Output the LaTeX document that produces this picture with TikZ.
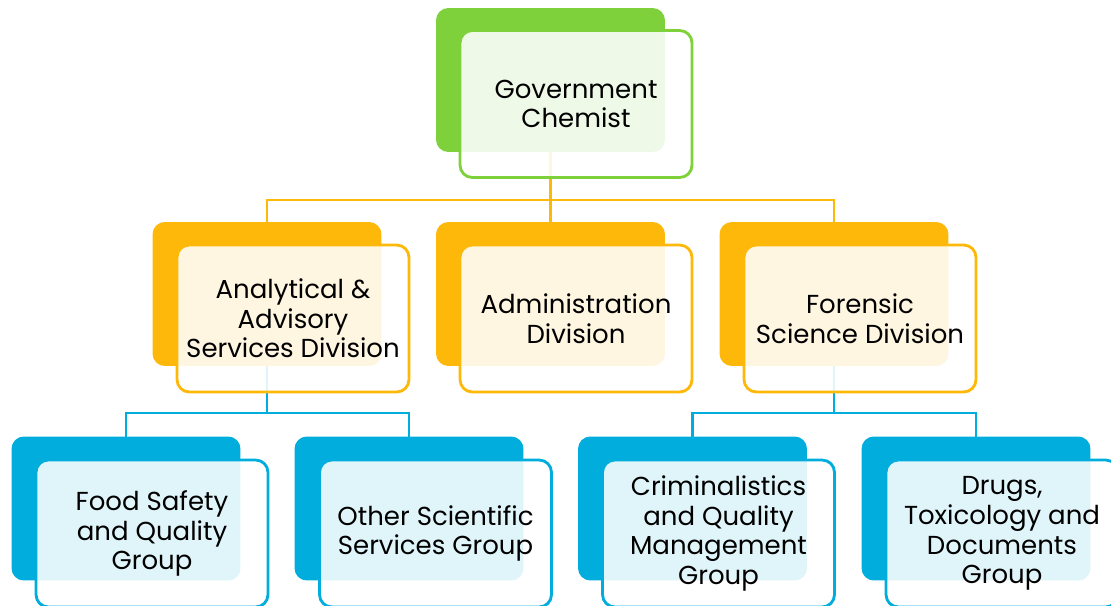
\documentclass[tikz,border=0pt]{standalone}
\usepackage{fontspec}
\setmainfont{Poppins}
\usetikzlibrary{backgrounds}
\definecolor{chemgreen}{HTML}{7FD13B}
\definecolor{chemorange}{HTML}{FEB80A}
\definecolor{chemblue}{HTML}{00ADDC}
\tikzset{
	backbox/.style={fill=#1, rounded corners=7pt, minimum width=4.58cm, minimum height=2.88cm, inner sep=0pt},
	frontbox/.style={draw=#1, line width=1.6pt, fill=white, fill opacity=0.88, text opacity=1, rounded corners=7pt,
			minimum width=4.64cm, minimum height=2.94cm, inner sep=0pt, align=center,
			font=\fontsize{14.8}{16.9}\selectfont},
	link/.style={draw=#1, line width=1.6pt}
}

\begin{document}
\begin{tikzpicture}[x=0.02cm, y=-0.02cm]
	\clip (0,0) rectangle (1111,605);
	\useasboundingbox (0,0) rectangle (1111,605);
	% top
	\node[backbox=chemgreen] (gcb) at (550.5,80) {};
	\node[frontbox=chemgreen] (gc) at (576,104) {Government\\Chemist};
	% divisions
	\node[backbox=chemorange] (aasb) at (267,294) {};
	\node[frontbox=chemorange] (aas) at (293,318.5) {Analytical \&\\Advisory\\Services Division};
	\node[backbox=chemorange] (admb) at (550.5,294) {};
	\node[frontbox=chemorange] (adm) at (576,318.5) {Administration\\Division};
	\node[backbox=chemorange] (fsdb) at (834,294) {};
	\node[frontbox=chemorange] (fsd) at (860,318.5) {Forensic\\Science Division};
	% groups
	\node[backbox=chemblue] (fsqb) at (126,508.5) {};
	\node[frontbox=chemblue] (fsq) at (152,533.5) {Food Safety\\and Quality\\Group};
	\node[backbox=chemblue] (ossb) at (409,508.5) {};
	\node[frontbox=chemblue] (oss) at (435.5,533.5) {Other Scientific\\Services Group};
	\node[backbox=chemblue] (cqmb) at (692.5,508.5) {};
	\node[frontbox=chemblue] (cqm) at (718.5,533.5) {Criminalistics\\and Quality\\Management\\Group};
	\node[backbox=chemblue] (dtdb) at (976,508.5) {};
	\node[frontbox=chemblue] (dtd) at (1002,533.5) {Drugs,\\Toxicology and\\Documents\\Group};
	% connectors
	\coordinate (obus) at (550.5,200);
	\coordinate (lbus) at (267,413);
	\coordinate (rbus) at (834,413);
	\begin{scope}[on background layer]
		\draw[link=chemorange] (gcb.center) -- (obus);
		\draw[link=chemorange] (aasb.center) |- (obus) -| (fsdb.center);
		\draw[link=chemorange] (obus) -- (admb.center);
		\draw[link=chemblue] (aasb.center) -- (lbus);
		\draw[link=chemblue] (fsqb.center) |- (lbus) -| (ossb.center);
		\draw[link=chemblue] (fsdb.center) -- (rbus);
		\draw[link=chemblue] (cqmb.center) |- (rbus) -| (dtdb.center);
	\end{scope}
\end{tikzpicture}
\end{document}
